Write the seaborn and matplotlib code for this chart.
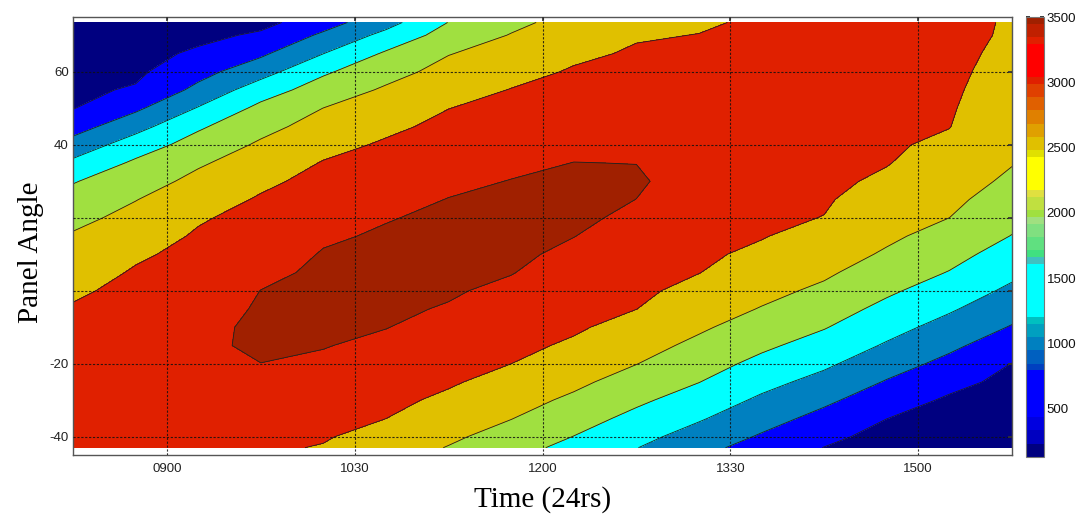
import numpy as np
import matplotlib
matplotlib.use("Agg")
import matplotlib.pyplot as plt
import seaborn as sns
from matplotlib.colors import ListedColormap, BoundaryNorm
from matplotlib.cm import ScalarMappable

# ---------------- data ----------------
times = [8.25, 8.75, 9.25, 9.75, 10.25, 10.75, 11.25, 11.75,
         12.25, 12.75, 13.25, 13.75, 14.25, 14.75, 15.25, 15.75]
angles = [73.5, 70, 65, 60, 55, 50, 45, 40, 35, 30, 25, 20, 15, 10, 5, 0,
          -5, -10, -15, -20, -25, -30, -35, -40, -43]
power = [
    [150, 140, 200, 350, 800, 1320, 2011, 2386, 2672, 2900, 2950, 3060, 3200, 3270, 3200, 2930],
    [200, 211, 358, 582, 1080, 1641, 2205, 2523, 2775, 2965, 3008, 3100, 3232, 3247, 3177, 2920],
    [270, 311, 590, 914, 1494, 2063, 2481, 2690, 2919, 3046, 3067, 3156, 3279, 3214, 3143, 2863],
    [341, 412, 832, 1307, 1929, 2331, 2657, 2858, 3041, 3120, 3127, 3212, 3320, 3181, 3110, 2806],
    [412, 545, 1126, 1768, 2231, 2564, 2826, 3015, 3134, 3195, 3186, 3269, 3276, 3148, 3077, 2749],
    [483, 910, 1533, 2125, 2505, 2738, 2995, 3116, 3227, 3269, 3245, 3325, 3236, 3115, 3043, 2692],
    [786, 1327, 1929, 2357, 2684, 2912, 3102, 3217, 3320, 3344, 3305, 3289, 3196, 3082, 3010, 2635],
    [1190, 1750, 2199, 2566, 2863, 3053, 3207, 3318, 3413, 3418, 3364, 3244, 3157, 3049, 2924, 2578],
    [1605, 2081, 2442, 2738, 3025, 3160, 3312, 3419, 3505, 3495, 3340, 3200, 3117, 3016, 2818, 2521],
    [1970, 2283, 2625, 2910, 3132, 3268, 3417, 3511, 3582, 3560, 3285, 3155, 3077, 2938, 2712, 2412],
    [2178, 2486, 2790, 3045, 3240, 3375, 3510, 3570, 3659, 3497, 3229, 3111, 3038, 2820, 2606, 2271],
    [2372, 2639, 2955, 3138, 3347, 3482, 3561, 3629, 3584, 3411, 3174, 3066, 2992, 2701, 2500, 2131],
    [2545, 2789, 3049, 3231, 3454, 3539, 3612, 3632, 3507, 3329, 3119, 3021, 2853, 2583, 2328, 1987],
    [2675, 2939, 3117, 3324, 3523, 3585, 3638, 3573, 3418, 3248, 3064, 2923, 2714, 2444, 2156, 1797],
    [2805, 3041, 3185, 3417, 3564, 3632, 3588, 3514, 3328, 3166, 3008, 2776, 2574, 2260, 1980, 1607],
    [2936, 3111, 3252, 3504, 3604, 3602, 3538, 3420, 3238, 3085, 2871, 2629, 2411, 2076, 1767, 1405],
    [3037, 3180, 3320, 3544, 3595, 3555, 3475, 3315, 3147, 3003, 2719, 2476, 2218, 1876, 1555, 1188],
    [3110, 3250, 3388, 3580, 3556, 3509, 3369, 3210, 3057, 2841, 2567, 2282, 2026, 1667, 1329, 967],
    [3183, 3320, 3455, 3538, 3516, 3416, 3263, 3105, 2938, 2675, 2392, 2088, 1808, 1450, 1098, 727],
    [3256, 3390, 3416, 3498, 3439, 3313, 3157, 3000, 2769, 2509, 2200, 1875, 1585, 1207, 869, 490],
    [3329, 3397, 3369, 3404, 3338, 3209, 3051, 2837, 2600, 2299, 2008, 1647, 1344, 965, 641, 370],
    [3400, 3356, 3322, 3309, 3238, 3105, 2914, 2674, 2413, 2087, 1778, 1417, 1090, 734, 430, 280],
    [3361, 3315, 3276, 3213, 3137, 3001, 2748, 2511, 2201, 1869, 1547, 1183, 853, 503, 300, 210],
    [3323, 3274, 3229, 3117, 3036, 2836, 2582, 2311, 1990, 1646, 1296, 949, 625, 330, 200, 160],
    [3300, 3250, 3200, 3060, 2975, 2736, 2478, 2189, 1846, 1512, 1141, 808, 490, 250, 160, 140],
]
levels = [0, 500, 1000, 1500, 2000, 2500, 3000, 3500, 4000]
fill_colors = ["#000080", "#0000FF", "#0080C0", "#00FFFF",
               "#A0E040", "#E0C000", "#E02000", "#A02000"]

xtick_vals = [9.0, 10.5, 12.0, 13.5, 15.0]
xtick_labels = ["0900", "1030", "1200", "1330", "1500"]
ytick_vals = [-40, -20, 0, 20, 40, 60]
ytick_labels = ["-40", "-20", "", "", "40", "60"]

cbar_edges = [130, 232, 334, 436, 794, 845, 947, 1049, 1151, 1202, 1611, 1662,
              1713, 1815, 1917, 1968, 2019, 2121, 2172, 2428, 2479, 2581, 2683,
              2785, 2887, 2989, 3040, 3296, 3347, 3449, 3500]
cbar_colors = ["#000080", "#0000C0", "#0000E0", "#0000FF", "#0040C0", "#0060C0",
               "#0080C0", "#00A0C0", "#00C0C0", "#00FFFF", "#40C0C0", "#40E080",
               "#60E080", "#80E080", "#A0E080", "#A0E040", "#C0E040", "#E0E040",
               "#FFFF00", "#E0E000", "#E0C000", "#E0A000", "#E08000", "#E06000",
               "#E04000", "#E02000", "#FF0000", "#E02000", "#C02000", "#A02000"]
cbar_ticks = [500, 1000, 1500, 2000, 2500, 3000, 3500]

# ---------------- style ----------------
sns.set_theme(style="white")
plt.rcParams["font.family"] = ["Liberation Sans", "DejaVu Sans"]

fig = plt.figure(figsize=(10.82, 5.15), dpi=100)
ax = fig.add_axes([73 / 1082, 60 / 515, 939 / 1082, 438 / 515])
cax = fig.add_axes([1026 / 1082, 58 / 515, 18 / 1082, 440 / 515])

Z = np.array(power, dtype=float)
ax.contourf(times, angles, Z, levels=levels, colors=fill_colors, zorder=1)
ax.contour(times, angles, Z, levels=levels[1:-1], colors="#202020",
           linewidths=0.6, zorder=2)

ax.set_xlim(8.25, 15.75)
ax.set_ylim(-45, 75)
ax.set_xticks(xtick_vals)
ax.set_xticklabels(xtick_labels)
ax.set_yticks(ytick_vals)
ax.set_yticklabels(ytick_labels)
ax.tick_params(axis="both", labelsize=9.5, labelcolor="#222222",
               direction="in", length=3, color="#333333",
               top=True, right=True)
ax.tick_params(axis="x", pad=6)
ax.tick_params(axis="y", pad=3)
ax.set_axisbelow(False)
ax.grid(True, color="#111111", linestyle=(0, (2, 1.5)), linewidth=0.8, alpha=0.85)
for s in ax.spines.values():
    s.set_color("#555555")
    s.set_linewidth(1.0)

serif = ["Liberation Serif", "DejaVu Serif"]
ax.set_xlabel("Time (24rs)", fontsize=21, family=serif, color="black")
ax.set_ylabel("Panel Angle", fontsize=21, family=serif, color="black")
ax.xaxis.set_label_coords(0.5, -0.072)
ax.yaxis.set_label_coords(-0.031, 0.463)

cmap = ListedColormap(cbar_colors)
norm = BoundaryNorm(cbar_edges, cmap.N)
cb = fig.colorbar(ScalarMappable(norm=norm, cmap=cmap), cax=cax,
                  ticks=cbar_ticks, spacing="proportional", drawedges=False)
cb.minorticks_off()
cb.outline.set_edgecolor("#777777")
cb.outline.set_linewidth(0.8)
cax.tick_params(labelsize=9.5, direction="in", length=3, left=True, right=True,
                color="#222222", labelcolor="#111111", pad=2)
cax.set_yticks(cbar_ticks)
cax.set_yticklabels([str(t) for t in cbar_ticks])
cax.yaxis.set_minor_locator(matplotlib.ticker.NullLocator())

fig.savefig("out.png", dpi=100, facecolor="white")
